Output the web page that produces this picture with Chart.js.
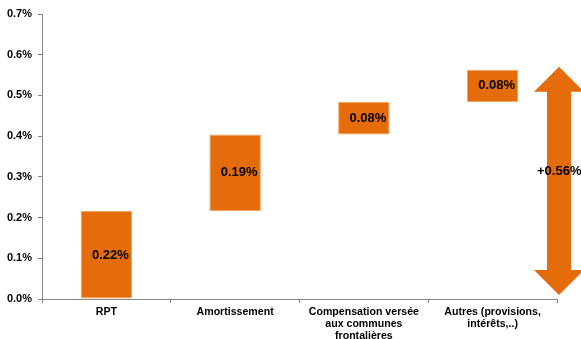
<!DOCTYPE html>
<html>
<head>
<meta charset="utf-8">
<script src="https://cdn.jsdelivr.net/npm/chart.js@4/dist/chart.umd.min.js"></script>
<style>
  html, body { margin: 0; padding: 0; background: #fff; }
  #wrap { width: 581px; height: 339px; }
</style>
</head>
<body>
<div id="wrap"><canvas id="chart" width="581" height="339"></canvas></div>
<script>
// categories (multi-line labels)
const categories = [
  'RPT',
  'Amortissement',
  ['Compensation versée', 'aux communes', 'frontalières'],
  ['Autres (provisions,', 'intérêts,..)']
];
// increments in % (each step of the waterfall)
const increments = [0.216, 0.188, 0.080, 0.079];
const yTicks = [0, 0.1, 0.2, 0.3, 0.4, 0.5, 0.6, 0.7];

const orange = '#E46C0A';
const orangeEdge = '#F4A460';
const axisGrey = '#868686';
const fontFamily = 'Arial, "Liberation Sans", sans-serif';

// floating bars [start, end]
const floats = [];
let run = 0;
increments.forEach(v => { floats.push([run, run + v]); run += v; });
const total = run;

// ─── labels inside bars + total arrow ─────────────────────────
const waterfallExtras = {
  id: 'waterfallExtras',
  afterDatasetsDraw(chart) {
    const { ctx, scales } = chart;
    const y = scales.y;
    const meta = chart.getDatasetMeta(0);

    ctx.save();
    ctx.font = 'bold 13px ' + fontFamily;
    ctx.fillStyle = '#000';
    ctx.textAlign = 'center';
    ctx.textBaseline = 'middle';
    meta.data.forEach((bar, i) => {
      const mid = y.getPixelForValue((floats[i][0] + floats[i][1]) / 2);
      ctx.fillText(increments[i].toFixed(2) + '%', bar.x + 4, mid);
    });

    // double arrow for the total
    const cx = chart.chartArea.right + 2;
    const top = y.getPixelForValue(total) - 3;
    const bot = y.getPixelForValue(0) - 4;
    const head = 25, halfHead = 25, halfShaft = 12;
    ctx.fillStyle = orange;
    ctx.beginPath();
    ctx.moveTo(cx, top);
    ctx.lineTo(cx + halfHead, top + head);
    ctx.lineTo(cx + halfShaft, top + head);
    ctx.lineTo(cx + halfShaft, bot - head);
    ctx.lineTo(cx + halfHead, bot - head);
    ctx.lineTo(cx, bot);
    ctx.lineTo(cx - halfHead, bot - head);
    ctx.lineTo(cx - halfShaft, bot - head);
    ctx.lineTo(cx - halfShaft, top + head);
    ctx.lineTo(cx - halfHead, top + head);
    ctx.closePath();
    ctx.fill();

    ctx.fillStyle = '#000';
    ctx.textAlign = 'left';
    ctx.fillText('+' + total.toFixed(2) + '%', cx - 22, (top + bot) / 2 - 9);
    ctx.restore();
  }
};

new Chart(document.getElementById('chart'), {
  type: 'bar',
  data: {
    labels: categories,
    datasets: [{
      data: floats,
      backgroundColor: orange,
      borderColor: orangeEdge,
      borderWidth: 1,
      borderSkipped: false,
      categoryPercentage: 1,
      barPercentage: 0.4
    }]
  },
  options: {
    responsive: false,
    animation: false,
    layout: { padding: { top: 14, right: 24, left: 0, bottom: 0 } },
    plugins: { legend: { display: false }, tooltip: { enabled: false } },
    scales: {
      x: {
        grid: { display: true, drawOnChartArea: false, drawTicks: true, tickLength: 4, offset: true, color: axisGrey },
        border: { display: true, color: axisGrey },
        ticks: { color: '#000', padding: 3, maxRotation: 0, autoSkip: false,
                 font: { family: fontFamily, size: 10.6, weight: 'bold', lineHeight: 1.13 } },
        afterFit: (axis) => { axis.height = 40; }
      },
      y: {
        min: 0, max: 0.7,
        afterBuildTicks: (axis) => { axis.ticks = yTicks.map(v => ({ value: v })); },
        grid: { display: true, drawOnChartArea: false, drawTicks: true, tickLength: 4, color: axisGrey },
        border: { display: true, color: axisGrey },
        ticks: { color: '#000', padding: 6,
                 font: { family: fontFamily, size: 11, weight: 'bold' },
                 callback: (v) => v.toFixed(1) + '%' },
        afterFit: (axis) => { axis.width = 42; }
      }
    }
  },
  plugins: [waterfallExtras]
});
</script>
</body>
</html>
